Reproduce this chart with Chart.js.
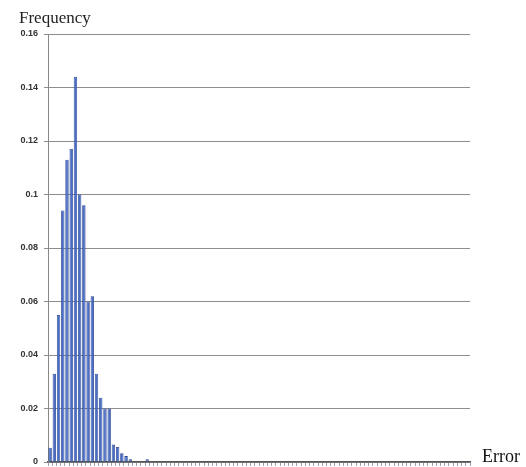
<!DOCTYPE html>
<html>
<head>
<meta charset="utf-8">
<script src="https://cdn.jsdelivr.net/npm/chart.js@4"></script>
<style>
  html, body { margin: 0; padding: 0; background: #fff; }
  #wrap { width: 526px; height: 467px; position: relative; }
</style>
</head>
<body>
<div id="wrap"><canvas id="c" width="526" height="467"></canvas></div>
<script>
// Data
const binCount = 100;
const categories = Array.from({length: binCount}, (_, i) => String(i + 1));
const headValues = [0.0053, 0.033, 0.055, 0.094, 0.113, 0.117, 0.144, 0.100, 0.096, 0.060,
                    0.062, 0.033, 0.024, 0.020, 0.020, 0.0065, 0.0056, 0.0033, 0.0022, 0.001,
                    0.0003, 0.0002, 0.0002, 0.001];
const frequencyValues = categories.map((_, i) => i < headValues.length ? headValues[i] : 0);
const yTicks = [0, 0.02, 0.04, 0.06, 0.08, 0.1, 0.12, 0.14, 0.16];
const yTitle = 'Frequency';
const xTitle = 'Error';

const labelsPlugin = {
  id: 'labelsPlugin',
  afterDraw(chart) {
    const ctx = chart.ctx;
    const a = chart.chartArea;
    ctx.save();
    ctx.fillStyle = '#222';
    ctx.font = '17px "Liberation Serif", "DejaVu Serif", serif';
    ctx.textBaseline = 'alphabetic';
    ctx.textAlign = 'left';
    ctx.fillText(yTitle, 19, 23);
    ctx.fillStyle = '#111';
    ctx.font = '18px "Liberation Serif", "DejaVu Serif", serif';
    ctx.fillText(xTitle, a.right + 12, a.bottom);
    ctx.restore();
  }
};

new Chart(document.getElementById('c'), {
  type: 'bar',
  data: {
    labels: categories,
    datasets: [{
      data: frequencyValues,
      backgroundColor: '#4a6dc6',
      borderColor: '#26428e',
      borderWidth: 0.8,
      barPercentage: 0.8,
      categoryPercentage: 1.0
    }]
  },
  options: {
    responsive: false,
    animation: false,
    layout: { padding: { left: 0, right: 56, top: 34, bottom: 0 } },
    plugins: { legend: { display: false }, tooltip: { enabled: false } },
    scales: {
      x: {
        offset: true,
        grid: { display: true, drawOnChartArea: false, drawTicks: true, tickLength: 4, color: '#9aa0b8', offset: true },
        border: { display: true, color: '#555', width: 1.5 },
        ticks: { display: true, autoSkip: false, maxRotation: 0, callback: () => '', padding: 0 },
        afterFit(scale) { scale.height = 5; }
      },
      y: {
        min: 0,
        max: 0.16,
        afterBuildTicks(scale) { scale.ticks = yTicks.map(v => ({ value: v })); },
        ticks: {
          callback: v => String(+v.toFixed(2)),
          color: '#333',
          font: { family: '"Liberation Sans", Arial, sans-serif', size: 9, weight: 'bold' },
          padding: 6
        },
        grid: { color: '#8e8e8e', lineWidth: 1, tickLength: 4, drawTicks: true },
        border: { display: true, color: '#888', width: 1 },
        afterFit(scale) { scale.width = 48; scale.paddingTop = 0; scale.paddingBottom = 0; }
      }
    }
  },
  plugins: [labelsPlugin]
});
</script>
</body>
</html>
